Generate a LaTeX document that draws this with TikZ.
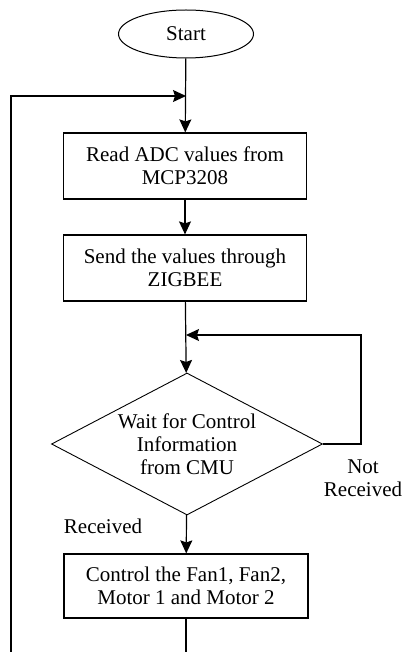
\documentclass[tikz,border=0pt]{standalone}
\usepackage{fontspec}
\setmainfont{Liberation Serif}
\usetikzlibrary{shapes.geometric,arrows.meta}
\tikzset{every node/.style={font=\fontsize{21}{23}\selectfont,align=center},
  terminal/.style={ellipse,draw,line width=1pt,minimum width=135pt,minimum height=48pt,inner sep=0pt},
  procbox/.style={rectangle,draw,line width=1.2pt,minimum width=243pt,minimum height=66pt,inner sep=0pt},
  decision/.style={diamond,draw,line width=0.9pt,shape aspect=1.9,minimum width=271pt,minimum height=142pt,inner sep=0pt},
  lbl/.style={inner sep=0pt},
  flow/.style={line width=1.2pt,-{Stealth[length=13pt,width=12pt,inset=2pt]}}}

\begin{document}
\begin{tikzpicture}[x=1pt,y=-1pt]
      \clip (0,0) rectangle (401,652);
      \node[terminal] (S) at (186,34) {Start};
      \node[procbox] (R) at (185,166) {Read ADC values from\\MCP3208};
      \node[procbox] (Z) at (185,268) {Send the values through\\ZIGBEE};
      \node[decision] (W) at (187,444) {Wait for Control\\Information\\from CMU};
      \node[procbox,minimum width=244pt,minimum height=64pt] (C) at (186,586) {Control the Fan1, Fan2,\\Motor 1 and Motor 2};
      \node[lbl] (NR) at (363,478) {Not\\Received};
      \node[lbl] (RC) at (103,526) {Received};

      \coordinate (J1) at (186,96);
      \coordinate (L1) at (11,96);
      \coordinate (L2) at (11,660);
      \coordinate (B1) at (186,660);
      \coordinate (J2) at (186,335);
      \coordinate (R1) at (361,335);
      \coordinate (R2) at (361,444);

      \draw[flow] (S) -- (R);
      \draw[flow] (R) -- (Z);
      \draw[flow] (Z) -- (W);
      \draw[flow] (W) -- (C);
      \draw[flow] (W.east) -- (R2) -- (R1) -- (J2);
      \draw[flow] (C) -- (B1) -- (L2) -- (L1) -- (J1);
    \end{tikzpicture}
\end{document}
